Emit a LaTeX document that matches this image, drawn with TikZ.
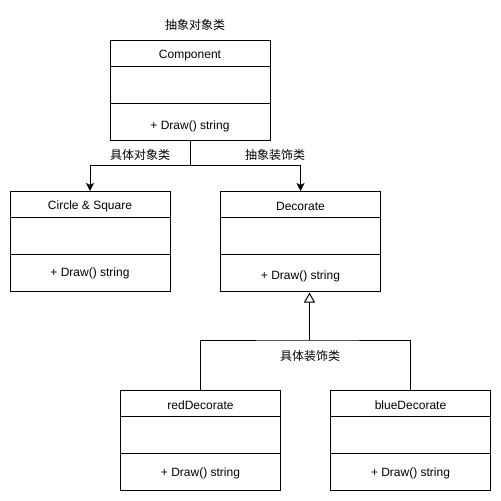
\documentclass[tikz,border=0pt]{standalone}
\usepackage{fontspec}
\setmainfont{Liberation Sans}
\newfontfamily\cjk{Noto Sans CJK SC}
\usetikzlibrary{arrows.meta}

\tikzset{
  classbox/.style={draw, line width=1bp, minimum width=160bp, minimum height=100bp,
    inner sep=0pt, outer sep=0pt, anchor=north west},
  txt/.style={inner sep=0pt, font=\fontsize{12bp}{14bp}\selectfont},
  cjktxt/.style={inner sep=0pt, font=\fontsize{12bp}{14bp}\selectfont\cjk},
  wire/.style={line width=1bp},
  assoc/.style={wire, -{Stealth[length=8bp, width=8bp, inset=2bp]}},
  inherit/.style={wire, -{Triangle[open, length=10bp, width=11bp]}, shorten >=1.5bp},
}

% name, left, top, title, offset of the operation text
\newcommand\umlclass[5]{%
  \node[classbox] (#1) at (#2,#3) {};
  \draw[wire] ([yshift=-26bp]#1.north west) -- ([yshift=-26bp]#1.north east);
  \draw[wire] ([yshift=-63bp]#1.north west) -- ([yshift=-63bp]#1.north east);
  \node[txt] (#1-title) at ([yshift=-15bp]#1.north) {#4};
  \node[txt] (#1-op) at ([yshift=-#5bp]#1.north) {+ Draw() string};
}

\begin{document}
\begin{tikzpicture}[x=1bp, y=-1bp]
  \fill[white] (0,0) rectangle (501,501);
  \useasboundingbox (0,0) rectangle (501,501);

  \umlclass{comp}{110}{40.5}{Component}{85.5}
  \umlclass{cs}{10}{191}{Circle \& Square}{82.5}
  \umlclass{dec}{220.5}{191}{Decorate}{85}
  \umlclass{red}{120.5}{390}{redDecorate}{83.5}
  \umlclass{blue}{330.5}{390}{blueDecorate}{83.5}

  \node[cjktxt] (lab-abs) at (195,25) {抽象对象类};
  \node[cjktxt] (lab-conc) at (140,155) {具体对象类};
  \node[cjktxt] (lab-absdec) at (275,155) {抽象装饰类};
  \node[cjktxt] (lab-concdec) at (310,356) {具体装饰类};

  % associations from Component
  \draw[assoc] (comp.south) -- ++(0,24.5) -| (cs.north);
  \draw[assoc] (comp.south) -- ++(0,24.5) -| (dec.north);

  % generalisation of the concrete decorators
  \coordinate (gen) at (309.5,340);
  \draw[wire] (red.north) |- (gen) -| (blue.north);
  \draw[inherit] (gen) -- (gen |- dec.south);
\end{tikzpicture}
\end{document}
